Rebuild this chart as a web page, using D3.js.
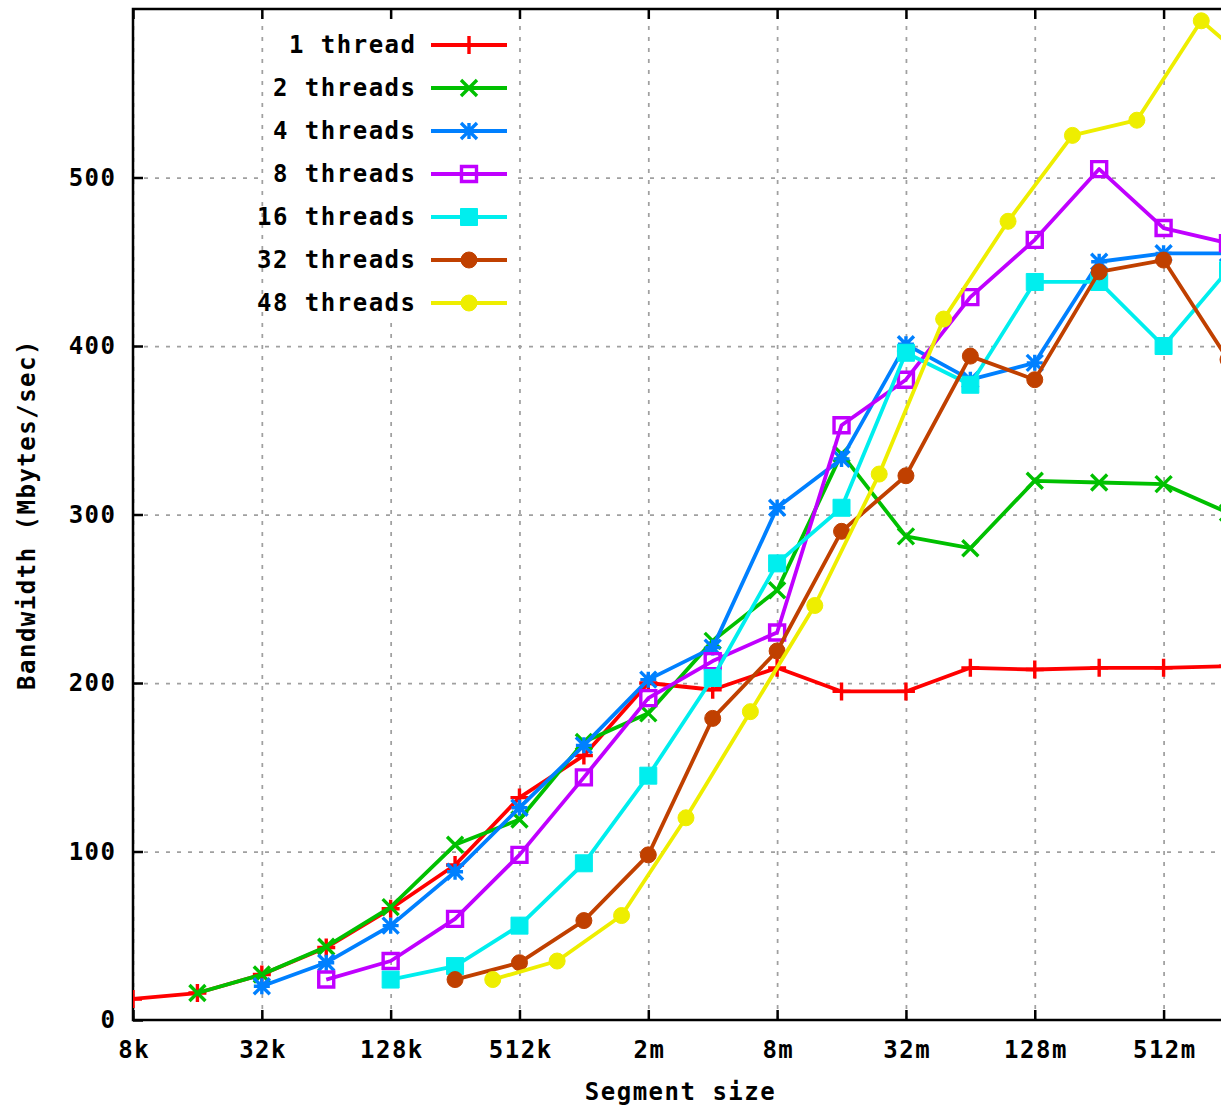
<!DOCTYPE html>
<html>
<head>
<meta charset="utf-8">
<script src="https://cdn.jsdelivr.net/npm/d3@7"></script>
<style>
  html, body { margin: 0; padding: 0; background: #fff; overflow: hidden; }
  svg { display: block; }
  text { font-family: "DejaVu Sans Mono", "Liberation Mono", monospace; font-weight: bold; font-size: 24px; letter-spacing: 1.5px; fill: #000; }
</style>
</head>
<body>
<svg id="chart" width="1221" height="1107"></svg>
<script>
// Segment sizes in kilobytes, one list per thread count
const sizes1  = [8, 16, 32, 64, 128, 256, 512, 1024, 2048, 4096, 8192, 16384, 32768, 65536, 131072, 262144, 524288, 1048576];
const sizes2  = [16, 32, 64, 128, 256, 512, 1024, 2048, 4096, 8192, 16384, 32768, 65536, 131072, 262144, 524288, 1048576];
const sizes4  = [32, 64, 128, 256, 512, 1024, 2048, 4096, 8192, 16384, 32768, 65536, 131072, 262144, 524288, 1048576];
const sizes8  = [64, 128, 256, 512, 1024, 2048, 4096, 8192, 16384, 32768, 65536, 131072, 262144, 524288, 1048576];
const sizes16 = [128, 256, 512, 1024, 2048, 4096, 8192, 16384, 32768, 65536, 131072, 262144, 524288, 1048576];
const sizes32 = [256, 512, 1024, 2048, 4096, 8192, 16384, 32768, 65536, 131072, 262144, 524288, 1048576];
const sizes48 = [384, 768, 1536, 3072, 6144, 12288, 24576, 49152, 98304, 196608, 393216, 786432, 1572864];

// Bandwidth in Mbytes/sec
const bw1  = [12.5, 16, 27, 43, 66, 92, 132, 157, 200, 196, 209, 195, 195, 209, 208, 209, 209, 210];
const bw2  = [16, 27, 43.5, 67, 104, 119, 165, 182, 225, 255, 336, 287, 280, 320, 319, 318, 301];
const bw4  = [20, 34, 56, 88, 126, 163, 202, 221, 304, 333, 401, 380, 390, 450, 455, 455];
const bw8  = [24, 35, 60, 98, 144, 191, 213, 230, 353, 380, 429, 463, 505, 470, 461];
const bw16 = [24, 32, 56, 93, 145, 203, 271, 304, 396, 377, 438, 438, 400, 445];
const bw32 = [24, 34, 59, 98, 179, 219, 290, 323, 394, 380, 444, 451, 392];
const bw48 = [24, 35, 62, 120, 183, 246, 324, 416, 474, 525, 534, 593, 560];

const seriesNames = ["1 thread", "2 threads", "4 threads", "8 threads", "16 threads", "32 threads", "48 threads"];
const seriesColors = ["#ff0000", "#00c000", "#0080ff", "#c000ff", "#00eeee", "#c04000", "#eeee00"];
const seriesMarkers = ["plus", "cross", "star", "boxOpen", "boxFilled", "dot", "dot"];

// Axis ticks
const xTickValues = [8, 32, 128, 512, 2048, 8192, 32768, 131072, 524288];
const xTickLabels = ["8k", "32k", "128k", "512k", "2m", "8m", "32m", "128m", "512m"];
const yTickValues = [0, 100, 200, 300, 400, 500];

const allSizes = [sizes1, sizes2, sizes4, sizes8, sizes16, sizes32, sizes48];
const allBw = [bw1, bw2, bw4, bw8, bw16, bw32, bw48];

const plotLeft = 133, plotRight = 1228, plotTop = 9, plotBottom = 1020;

const svg = d3.select("#chart");

const x = d3.scaleLog().base(2).domain([8, 1048576]).range([plotLeft, plotRight]);
const y = d3.scaleLinear().domain([0, 600]).range([plotBottom, plotTop]);

// Grid
const gridStyle = g => g.selectAll("line")
  .attr("stroke", "#a0a0a0").attr("stroke-width", 1.75).attr("stroke-dasharray", "4,7");

svg.append("g")
  .attr("transform", `translate(0,${plotBottom})`)
  .call(d3.axisBottom(x).tickValues(xTickValues).tickSize(-(plotBottom - plotTop)).tickFormat(""))
  .call(g => g.select(".domain").remove())
  .call(gridStyle);

svg.append("g")
  .attr("transform", `translate(${plotLeft},0)`)
  .call(d3.axisLeft(y).tickValues(yTickValues.filter(v => v > 0)).tickSize(-(plotRight - plotLeft)).tickFormat(""))
  .call(g => g.select(".domain").remove())
  .call(gridStyle);

// Key background covers the grid behind it
svg.append("rect")
  .attr("x", 264).attr("y", plotTop + 2).attr("width", 253).attr("height", 310)
  .attr("fill", "#fff");

// Border and inward ticks
svg.append("rect")
  .attr("x", plotLeft).attr("y", plotTop).attr("width", plotRight - plotLeft).attr("height", plotBottom - plotTop)
  .attr("fill", "none").attr("stroke", "#000").attr("stroke-width", 2.5);

const axisStyle = g => {
  g.select(".domain").remove();
  g.selectAll(".tick line").attr("stroke", "#000").attr("stroke-width", 2.5);
  g.selectAll("text").attr("font-size", null).attr("font-family", null).attr("fill", "#000");
};

svg.append("g")
  .attr("transform", `translate(0,${plotBottom})`)
  .call(d3.axisBottom(x).tickValues(xTickValues)
    .tickFormat((d, i) => xTickLabels[i])
    .tickSizeInner(-10).tickSizeOuter(0).tickPadding(21))
  .call(axisStyle)
  .call(g => g.selectAll("text").attr("dx", "0.75px"));

svg.append("g")
  .attr("transform", `translate(0,${plotTop})`)
  .call(d3.axisTop(x).tickValues(xTickValues).tickFormat("")
    .tickSizeInner(-10).tickSizeOuter(0))
  .call(axisStyle);

svg.append("g")
  .attr("transform", `translate(${plotLeft},0)`)
  .call(d3.axisLeft(y).tickValues(yTickValues)
    .tickSizeInner(-10).tickSizeOuter(0).tickPadding(16.5))
  .call(axisStyle);

// Axis titles
svg.append("text")
  .attr("transform", `translate(27,${(plotTop + plotBottom) / 2}) rotate(-90)`)
  .attr("text-anchor", "middle").attr("dy", "0.35em")
  .text("Bandwidth (Mbytes/sec)");

svg.append("text")
  .attr("x", (plotLeft + plotRight) / 2).attr("y", 1092)
  .attr("text-anchor", "middle").attr("dy", "0.35em")
  .text("Segment size");

// Point symbols
function markerPath(kind) {
  const p = d3.path();
  if (kind === "plus") {
    const h = 9;
    p.moveTo(-h, 0); p.lineTo(h, 0); p.moveTo(0, -h); p.lineTo(0, h);
  } else if (kind === "cross") {
    const h = 8;
    p.moveTo(-h, -h); p.lineTo(h, h); p.moveTo(-h, h); p.lineTo(h, -h);
  } else if (kind === "star") {
    const h = 8;
    p.moveTo(-h, 0); p.lineTo(h, 0); p.moveTo(0, -h); p.lineTo(0, h);
    p.moveTo(-h, -h); p.lineTo(h, h); p.moveTo(-h, h); p.lineTo(h, -h);
  } else if (kind === "boxOpen") {
    p.rect(-7.5, -7.5, 15, 15);
  } else if (kind === "boxFilled") {
    p.rect(-8.5, -8.5, 17, 17);
  } else {
    p.arc(0, 0, 8, 0, 2 * Math.PI);
  }
  return p.toString();
}

function drawMarker(g, kind, color) {
  const filled = kind === "boxFilled" || kind === "dot";
  g.append("path")
    .attr("d", markerPath(kind))
    .attr("fill", filled ? color : "none")
    .attr("stroke", color)
    .attr("stroke-width", filled ? 1 : 3.4);
}

svg.append("clipPath").attr("id", "plot-clip")
  .append("rect").attr("x", plotLeft).attr("y", plotTop)
  .attr("width", plotRight - plotLeft).attr("height", plotBottom - plotTop);

const line = d3.line().x(d => x(d[0])).y(d => y(d[1]));

const plot = svg.append("g").attr("clip-path", "url(#plot-clip)");
const key = svg.append("g");

seriesNames.forEach((name, i) => {
  const color = seriesColors[i];
  const kind = seriesMarkers[i];
  const pts = allSizes[i].map((s, j) => [s, allBw[i][j]]);

  // key entry
  const ky = 45 + i * 43;
  key.append("text")
    .attr("x", 416.5).attr("y", ky).attr("dy", "0.35em")
    .attr("text-anchor", "end")
    .text(name);
  key.append("line")
    .attr("x1", 431).attr("x2", 507).attr("y1", ky).attr("y2", ky)
    .attr("stroke", color).attr("stroke-width", 3.8);
  drawMarker(key.append("g").attr("transform", `translate(469,${ky})`), kind, color);

  // series line and points
  const sg = plot.append("g");
  sg.append("path")
    .datum(pts)
    .attr("d", line)
    .attr("fill", "none")
    .attr("stroke", color)
    .attr("stroke-width", 3.8)
    .attr("stroke-linejoin", "round");
  pts.forEach(d => {
    drawMarker(sg.append("g").attr("transform", `translate(${x(d[0])},${y(d[1])})`), kind, color);
  });
});
</script>
</body>
</html>
